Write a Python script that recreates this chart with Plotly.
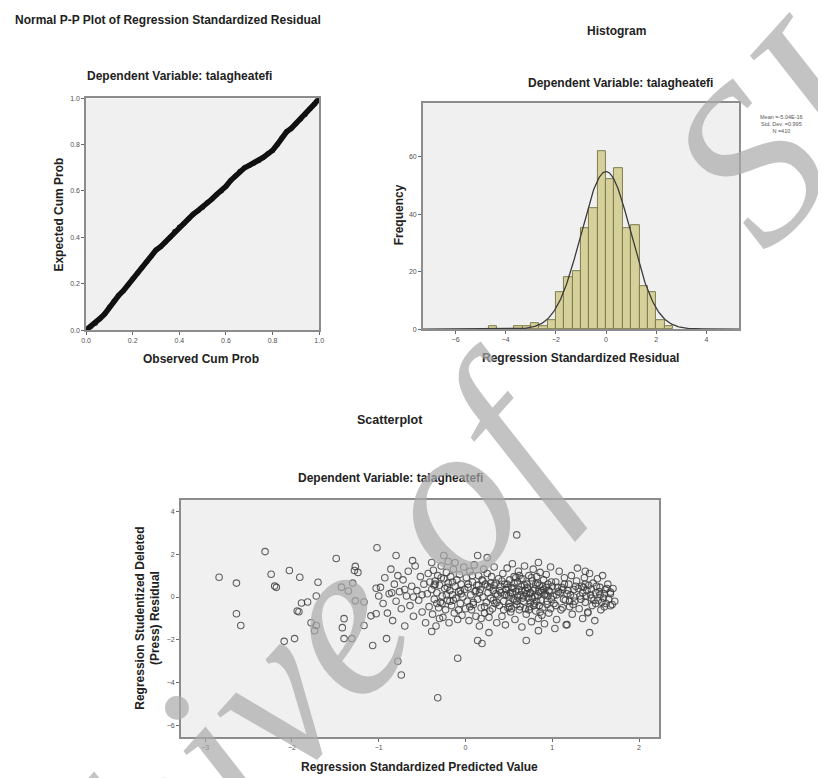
import numpy as np
import plotly.graph_objects as go

# ---------------- DATA ----------------
# Normal P-P plot (observed cum prob vs expected cum prob)
pp_observed = [0.0, 0.02, 0.04, 0.06, 0.08, 0.10, 0.12, 0.14, 0.16, 0.18, 0.20, 0.22, 0.24,
               0.26, 0.28, 0.30, 0.32, 0.34, 0.36, 0.38, 0.40, 0.42, 0.44, 0.46, 0.48, 0.50,
               0.52, 0.54, 0.56, 0.58, 0.60, 0.62, 0.64, 0.66, 0.68, 0.70, 0.72, 0.74, 0.76,
               0.78, 0.80, 0.82, 0.84, 0.86, 0.88, 0.90, 0.92, 0.94, 0.96, 0.98, 1.0]
pp_expected = [0.0, 0.015, 0.03, 0.05, 0.07, 0.10, 0.125, 0.15, 0.17, 0.195, 0.22, 0.245, 0.27,
               0.295, 0.32, 0.345, 0.36, 0.38, 0.40, 0.425, 0.445, 0.46, 0.48, 0.50, 0.515, 0.53,
               0.55, 0.565, 0.585, 0.60, 0.62, 0.645, 0.665, 0.685, 0.70, 0.71, 0.72, 0.73, 0.745,
               0.76, 0.775, 0.80, 0.83, 0.855, 0.87, 0.89, 0.91, 0.93, 0.955, 0.975, 1.0]

# Histogram of standardized residuals (bin width 1/3)
hist_bin_width = 1 / 3
hist_bin_centers = [-4.50, -4.1667, -3.8333, -3.50, -3.1667, -2.8333, -2.50, -2.1667,
                    -1.8333, -1.50, -1.1667, -0.8333, -0.50, -0.1667, 0.1667, 0.50,
                    0.8333, 1.1667, 1.50, 1.8333, 2.1667, 2.50]
hist_counts = [1, 0, 0, 1, 1, 2, 1, 3, 13, 18, 20, 35, 42, 62, 52, 56, 35, 36, 15, 13, 3, 1]
resid_mean = -5.04e-16
resid_sd = 0.995
resid_n = 410
legend_lines = ["Mean =-5.04E-16", "Std. Dev. =0.995", "N =410"]

# Scatterplot: standardized predicted value (x) vs studentized deleted residual (y)
pred_x = [
    # left sparse region
    -2.84, -2.64, -2.64, -2.59, -2.31, -2.24, -2.20, -2.18, -2.03, -1.91, -2.09, -1.97, -1.94,
    -1.89, -1.82, -1.92, -1.78, -1.72, -1.74, -1.70, -1.72, -1.49, -1.43, -1.35, -1.30, -1.27,
    -1.28, -1.24, -1.40, -1.42, -1.40, -1.31, -1.27, -1.17, -1.17, -1.07, -1.09, -1.03, -1.02,
    -1.03, -1.00,
    # -1.0 .. -0.4
    -0.98, -0.95, -0.93, -0.90, -0.88, -0.86, -0.84, -0.82, -0.80, -0.78, -0.76, -0.74, -0.72,
    -0.70, -0.68, -0.66, -0.64, -0.62, -0.60, -0.58, -0.56, -0.54, -0.52, -0.50, -0.48, -0.46,
    -0.44, -0.43, -0.42, -0.41, -0.80, -0.61, -0.78, -0.74, -0.91,
    # -0.4 .. 0
    -0.39, -0.38, -0.37, -0.36, -0.35, -0.34, -0.33, -0.32, -0.31, -0.30, -0.29, -0.28, -0.27,
    -0.26, -0.25, -0.24, -0.23, -0.22, -0.21, -0.20, -0.19, -0.18, -0.17, -0.16, -0.15, -0.14,
    -0.13, -0.12, -0.11, -0.10, -0.09, -0.08, -0.07, -0.06, -0.05, -0.04, -0.03, -0.02, -0.01,
    0.00, -0.36, -0.30, -0.22, -0.15, -0.08, -0.28, -0.12, -0.33, -0.05, -0.18,
    -0.32, -0.39, -0.25, -0.20, -0.39, -0.09,
    # 0 .. 0.4
    0.01, 0.02, 0.03, 0.04, 0.05, 0.06, 0.07, 0.08, 0.09, 0.10, 0.11, 0.12, 0.13, 0.14, 0.15,
    0.16, 0.17, 0.18, 0.19, 0.20, 0.21, 0.22, 0.23, 0.24, 0.25, 0.26, 0.27, 0.28, 0.29, 0.30,
    0.31, 0.32, 0.33, 0.34, 0.35, 0.36, 0.37, 0.38, 0.39, 0.40, 0.05, 0.12, 0.20, 0.28, 0.35,
    0.08, 0.18, 0.25, 0.32, 0.15, 0.14, 0.19, 0.27, 0.14, 0.25,
    # 0.4 .. 1.0
    0.41, 0.42, 0.43, 0.44, 0.45, 0.46, 0.47, 0.48, 0.49, 0.50, 0.51, 0.52, 0.53, 0.54, 0.55,
    0.56, 0.57, 0.58, 0.59, 0.60, 0.61, 0.62, 0.63, 0.64, 0.65, 0.66, 0.67, 0.68, 0.69, 0.70,
    0.71, 0.72, 0.73, 0.74, 0.75, 0.76, 0.77, 0.78, 0.79, 0.80, 0.81, 0.82, 0.83, 0.84, 0.85,
    0.86, 0.87, 0.88, 0.89, 0.90, 0.91, 0.92, 0.93, 0.94, 0.95, 0.96, 0.97, 0.98, 0.99, 1.00,
    0.45, 0.50, 0.55, 0.60, 0.65, 0.70, 0.75, 0.80, 0.85, 0.90, 0.95, 0.48, 0.53, 0.58, 0.63,
    0.68, 0.73, 0.78, 0.83, 0.88, 0.93, 0.98, 0.62, 0.72, 0.82, 0.52, 0.67, 0.77, 0.87, 0.57,
    0.59, 0.70, 0.84, 0.84,
    # 1.0 .. 1.75
    1.02, 1.04, 1.05, 1.07, 1.08, 1.10, 1.11, 1.13, 1.14, 1.16, 1.17, 1.19, 1.20, 1.22, 1.23,
    1.25, 1.26, 1.28, 1.29, 1.31, 1.32, 1.34, 1.35, 1.37, 1.38, 1.40, 1.41, 1.43, 1.44, 1.46,
    1.47, 1.49, 1.50, 1.52, 1.53, 1.55, 1.56, 1.58, 1.59, 1.61, 1.62, 1.64, 1.65, 1.67, 1.69,
    1.70, 1.72, 1.05, 1.15, 1.25, 1.35, 1.45, 1.55, 1.12, 1.30, 1.42, 1.20, 1.50, 1.60, 1.38,
    1.03, 1.17, 1.43, 1.41, 1.38, 1.67, 1.67, 1.60,
    # extra dense-band cases
    0.33, 0.36, 0.39, 0.42, 0.44, 0.47, 0.49, 0.51, 0.54, 0.56, 0.59, 0.61, 0.64, 0.66, 0.69,
    0.71, 0.74, 0.76, 0.79, 0.81, 0.84, 0.86, 0.89, 0.91, 0.94, 0.96, 0.99, 1.01, 1.04, 1.06,
    1.09, 1.12, 1.14, 1.18, 1.21, 1.24, 1.27, 1.33, 1.36, 1.39, 1.45, 1.48, 1.51, 1.54, 1.57,
    1.63, -0.35, -0.27, -0.21, -0.14, -0.06, 0.03, 0.09, 0.16, 0.22, 0.29, -0.60, -0.70, -0.50,
    -0.85,
]
resid_y = [
    # left sparse region
    0.92, 0.65, -0.78, -1.33, 2.12, 1.06, 0.51, 0.45, 1.24, 0.92, -2.07, -1.94, -0.65,
    -0.28, -0.23, -0.69, -1.20, -1.33, -1.57, 0.69, 0.05, 1.80, 0.46, 0.28, 0.65, 1.43,
    1.24, 1.15, -1.01, -1.43, -1.94, -1.94, -0.18, -0.23, -1.33, -2.26, -0.88, -0.78, 2.30,
    0.41, 0.05,
    # -1.0 .. -0.4
    0.45, -0.30, 0.90, -0.75, 0.15, 1.30, -1.10, 0.60, -0.20, 1.00, 0.25, -0.55, 0.80,
    -1.35, 0.05, 1.20, -0.40, 0.50, -0.90, 1.45, 0.30, -0.15, 0.95, -0.70, 0.60, -1.20,
    0.15, 1.10, -0.45, 0.70, 1.94, 1.70, -3.00, -3.64, -1.94,
    # -0.4 .. 0
    0.35, -0.80, 1.25, -0.10, 0.75, -1.35, 0.20, 1.00, -0.50, 0.55, -0.25, 1.45, 0.05,
    -0.95, 0.85, 0.40, -0.60, 1.15, -0.15, 0.65, -1.20, 0.30, 0.95, -0.40, 0.10, 1.30,
    -0.75, 0.50, -0.05, 0.80, -1.05, 0.25, 1.05, -0.30, 0.60, -0.85, 0.00, 1.40, 0.35,
    -0.55, 0.55, -1.00, 0.10, 0.70, -0.60, 0.90, 1.60, -0.30, 0.15, -0.20,
    -4.70, -1.61, 1.94, 1.66, 1.61, -2.86,
    # 0 .. 0.4
    0.90, -0.20, 0.45, -1.10, 1.20, 0.10, -0.60, 0.70, -0.35, 1.50, 0.25, -0.90, 0.55, -0.10, 1.00,
    -1.35, 0.35, -0.50, 0.80, 0.00, 1.30, -0.75, 0.60, -0.25, 1.10, 0.20, -0.95, 0.45, -0.05, 0.95,
    -0.55, 0.30, 1.40, -0.30, 0.65, -1.20, 0.10, 0.85, -0.40, 0.50, -0.45, 0.30, 0.75, -0.65, 0.15,
    1.00, -1.00, 0.50, -0.15, 0.55, -2.03, -2.17, -1.66, 1.94, 1.84,
    # 0.4 .. 1.0
    0.20, -0.90, 1.10, -0.20, 0.60, -1.30, 0.35, 1.35, -0.50, 0.05, 0.80, -0.70, 0.45, 1.55, -0.10,
    0.95, -1.05, 0.25, -0.35, 0.70, 1.20, -0.60, 0.10, 0.50, -1.40, 0.85, -0.20, 1.45, 0.30, -0.80,
    0.60, -0.05, 1.00, -0.45, 0.20, -1.15, 0.75, 1.30, -0.30, 0.40, -0.65, 0.95, 0.05, -1.00, 0.55,
    1.15, -0.15, 0.30, -0.50, 0.80, -1.25, 0.15, 1.05, -0.35, 0.60, -0.75, 0.25, 1.40, -0.10, 0.50,
    0.10, -0.30, 0.40, 0.00, 0.30, 0.15, -0.25, 0.05, -0.40, 0.35, 0.05, 0.60, -0.55, 0.90, -0.45,
    0.55, -0.60, 0.30, 0.65, -0.85, 0.45, -0.55, 1.00, 0.40, -0.20, 0.20, 0.05, -0.05, 0.20, -0.15,
    2.90, -2.03, -1.57, 1.61,
    # 1.0 .. 1.75
    -0.30, 0.70, -1.05, 0.25, 1.20, -0.60, 0.45, -0.10, 0.90, -1.30, 0.15, 0.60, -0.45, 1.00, -0.80,
    0.35, -0.20, 0.75, 1.35, -0.55, 0.05, 0.50, -1.00, 0.90, -0.25, 0.30, -0.70, 1.10, 0.10, -0.40,
    0.65, -1.10, 0.20, 0.85, -0.15, 0.45, -0.60, 1.00, -0.05, 0.35, -0.30, 0.60, -0.10, 0.15, -0.35,
    0.40, -0.20, 0.10, -0.15, 0.00, 0.20, -0.05, 0.10, 0.35, 0.40, 0.55, -0.20, -0.30, 0.15, 0.60,
    -1.47, -1.29, -1.66, -0.74, 1.20, 0.23, -0.41, -0.46,
    # extra dense-band cases
    0.55, -0.25, 0.30, 0.75, -0.60, 0.10, 0.45, -0.45, 0.20, 0.65, -0.20, 0.35, 0.85, -0.05, -0.55,
    0.45, 0.15, 0.90, -0.40, 0.60, 0.25, -0.70, 0.50, 0.10, -0.20, 0.30, 0.70, 0.05, -0.40, 0.45,
    0.20, -0.50, 0.60, 0.30, 0.10, -0.35, 0.50, -0.10, 0.45, 0.05, 0.35, -0.15, 0.50, 0.25, -0.25,
    0.40, 0.60, -0.30, 0.45, -0.15, 0.30, 0.60, -0.25, 0.20, -0.45, 0.65, 0.00, 0.35, 0.10,
    0.20,
]

# ---------------- LAYOUT (positions given in page pixels) ----------------
PAGE_OFF = 8            # the page body margin shifts the figure by 8 px
W, H = 826 - PAGE_OFF, 778 - PAGE_OFF

def fx(p):
    return (p - PAGE_OFF) / W

def fy(p):
    return 1 - (p - PAGE_OFF) / H

FONT = "Liberation Sans, Arial, sans-serif"
PLOT_BG = "#F0F0F0"
FRAME = "#8C8C8C"
TICKFONT = dict(family=FONT, size=7, color="#505050")

fig = go.Figure()

# P-P plot
fig.add_trace(go.Scatter(
    x=pp_observed, y=pp_expected, mode="lines+markers",
    line=dict(color="#111111", width=5.5),
    marker=dict(color="#111111", size=5),
    xaxis="x", yaxis="y", showlegend=False, hoverinfo="skip"))

# Histogram bars
fig.add_trace(go.Bar(
    x=hist_bin_centers, y=hist_counts, width=hist_bin_width,
    marker=dict(color="#D6D19A", line=dict(color="#7E7C4E", width=1)),
    xaxis="x2", yaxis="y2", showlegend=False, hoverinfo="skip"))

# Normal curve from the residual mean / sd / N
curve_x = np.linspace(-7.3, 5.3, 400)
curve_y = resid_n * hist_bin_width * np.exp(-0.5 * ((curve_x - resid_mean) / resid_sd) ** 2) / (
    resid_sd * np.sqrt(2 * np.pi))
fig.add_trace(go.Scatter(
    x=curve_x, y=curve_y, mode="lines", line=dict(color="#3C3C3C", width=1.3),
    xaxis="x2", yaxis="y2", showlegend=False, hoverinfo="skip"))

# Scatter
fig.add_trace(go.Scatter(
    x=pred_x, y=resid_y, mode="markers",
    marker=dict(symbol="circle-open", size=6.5, color="rgba(60,60,60,0.8)", line=dict(width=1.1)),
    xaxis="x3", yaxis="y3", showlegend=False, hoverinfo="skip"))

axis_common = dict(showgrid=False, zeroline=False, showline=True, linecolor=FRAME, linewidth=1.5,
                   mirror=True, ticks="outside", ticklen=3, tickcolor="#666666", tickfont=TICKFONT)

fig.update_layout(
    width=W, height=H, margin=dict(l=0, r=0, t=0, b=0),
    paper_bgcolor="white", plot_bgcolor=PLOT_BG, bargap=0,
    xaxis=dict(domain=[fx(82), fx(318)], range=[0, 1], tickvals=[0, 0.2, 0.4, 0.6, 0.8, 1.0],
               tickformat=".1f", anchor="y", **axis_common),
    yaxis=dict(domain=[fy(329), fy(95)], range=[0, 1], tickvals=[0, 0.2, 0.4, 0.6, 0.8, 1.0],
               tickformat=".1f", anchor="x", **axis_common),
    xaxis2=dict(domain=[fx(423), fx(743)], range=[-7.3, 5.3], tickvals=[-6, -4, -2, 0, 2, 4],
                anchor="y2", **axis_common),
    yaxis2=dict(domain=[fy(328), fy(100)], range=[0, 78.6], tickvals=[0, 20, 40, 60],
                anchor="x2", **axis_common),
    xaxis3=dict(domain=[fx(178), fx(662)], range=[-3.28, 2.23], tickvals=[-3, -2, -1, 0, 1, 2],
                anchor="y3", **axis_common),
    yaxis3=dict(domain=[fy(740), fy(500)], range=[-6.55, 4.55], tickvals=[-6, -4, -2, 0, 2, 4],
                anchor="x3", **axis_common),
)

def add_text(text, x, y, size=12, bold=True, angle=0, color="#222222", xanchor="center"):
    fig.add_annotation(text=("<b>%s</b>" % text) if bold else text, x=fx(x), y=fy(y),
                       xref="paper", yref="paper", showarrow=False, textangle=angle,
                       xanchor=xanchor, yanchor="middle",
                       font=dict(family=FONT, size=size, color=color))

# Titles
add_text("Normal P-P Plot of Regression Standardized Residual", 8, 16, size=12, xanchor="left")
add_text("Histogram", 619, 27, size=12)
add_text("Scatterplot", 390, 420, size=12.5)
# Subtitles
add_text("Dependent Variable: talagheatefi", 177, 73, size=12)
add_text("Dependent Variable: talagheatefi", 623, 80, size=12)
add_text("Dependent Variable: talagheatefi", 390, 478, size=12)
# Axis titles
add_text("Observed Cum Prob", 198, 358, size=12)
add_text("Expected Cum Prob", 55, 212, size=12, angle=-90)
add_text("Regression Standardized Residual", 583, 357, size=12)
add_text("Frequency", 399, 213, size=12, angle=-90)
add_text("Regression Standardized Predicted Value", 420, 770, size=12)
add_text("Regression Studentized Deleted<br>(Press) Residual", 145, 620, size=12, angle=-90)
# Histogram legend
fig.add_annotation(text="<br>".join(legend_lines), x=fx(786), y=fy(121), xref="paper", yref="paper",
                   xanchor="center", yanchor="middle",
                   showarrow=False, align="center", font=dict(family=FONT, size=5.5, color="#555555"))

# Watermark of the source archive
fig.add_annotation(text="Archive of&nbsp;&nbsp;&nbsp;&nbsp; SID", x=fx(422), y=fy(528),
                   xref="paper", yref="paper", xanchor="center", yanchor="middle",
                   showarrow=False, textangle=-48,
                   font=dict(family="Liberation Serif, DejaVu Serif, serif", size=225,
                             color="rgba(170,170,170,0.7)", style="italic"))

fig.write_html("out.html")
